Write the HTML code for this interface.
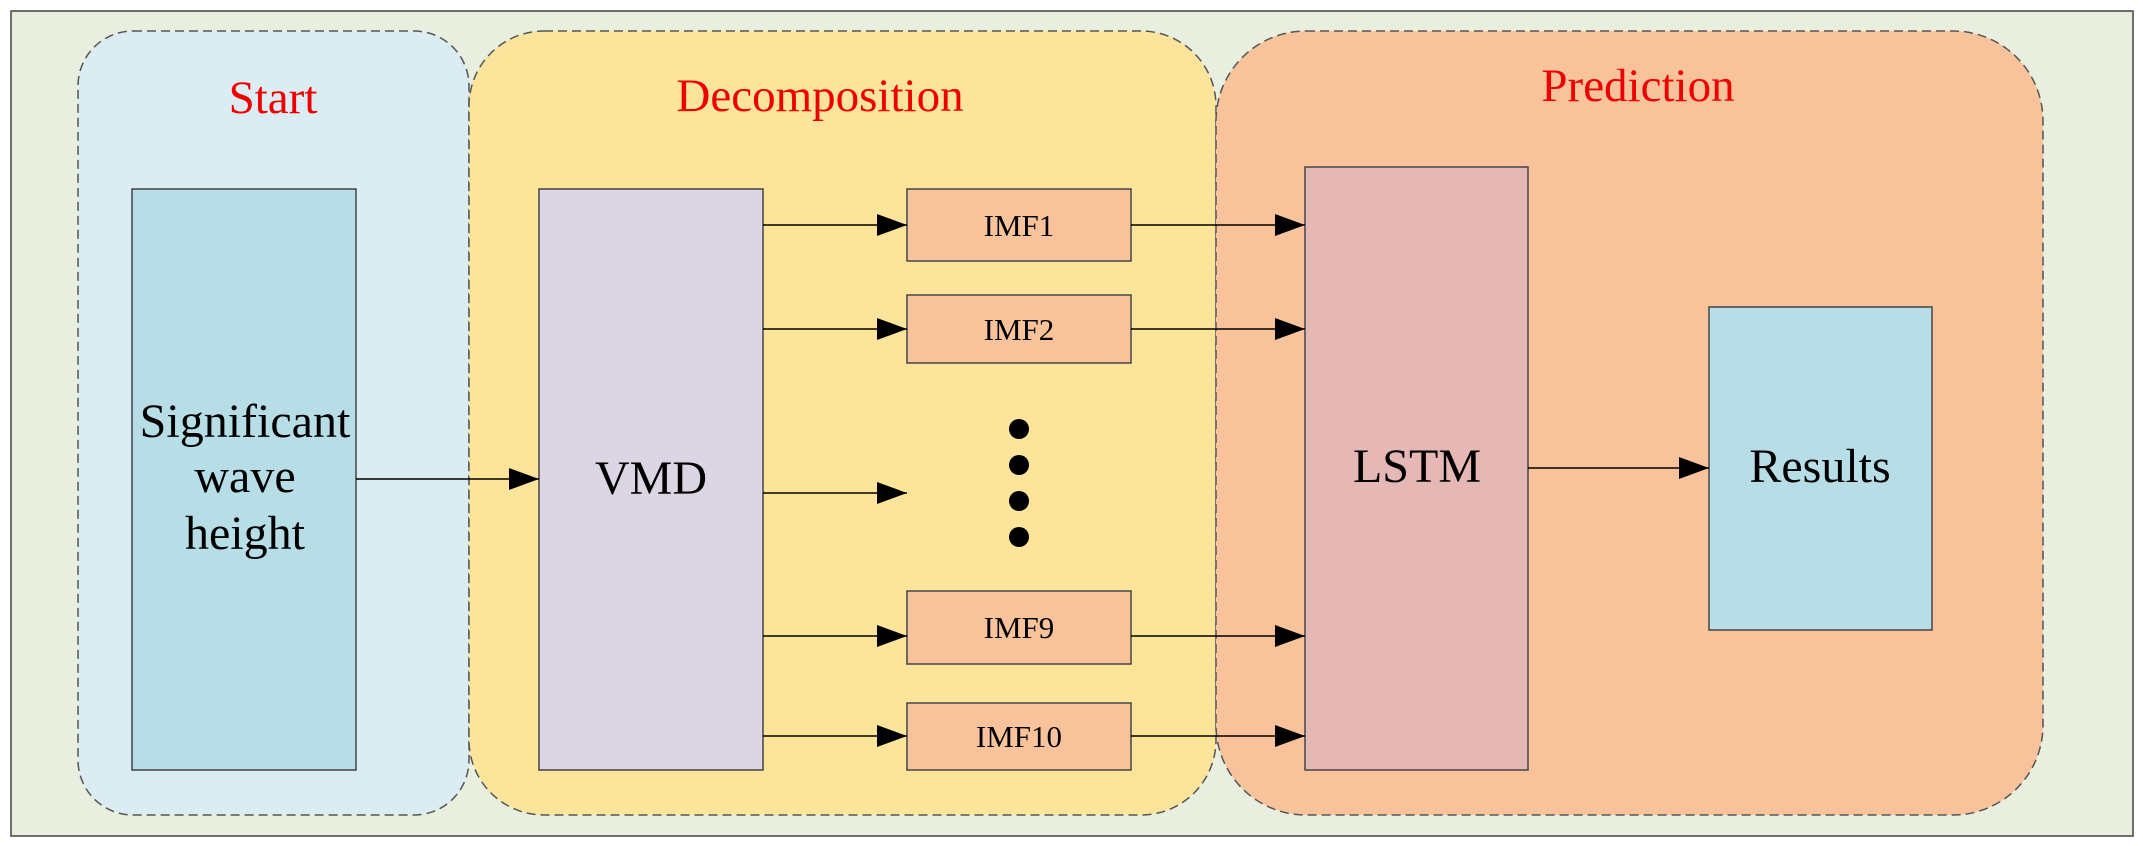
<!DOCTYPE html>
<html><head><meta charset="utf-8"><style>html,body{margin:0;padding:0;background:#fff}svg{display:block}</style></head>
<body>
<svg width="2143" height="846" viewBox="0 0 2143 846" xmlns="http://www.w3.org/2000/svg" font-family="'Liberation Serif', serif">
<defs><marker id="a" markerWidth="30" markerHeight="22" refX="30" refY="11" orient="auto" markerUnits="userSpaceOnUse"><path d="M0,0 L30,11 L0,22 Z" fill="#000"/></marker></defs>
<rect x="11" y="11" width="2122" height="825" fill="#e9efdf" stroke="#444" stroke-width="1.5"/>
<rect x="78" y="31" width="391" height="784" rx="55" fill="#dbecf2" stroke="#555" stroke-width="1.5" stroke-dasharray="9,5"/>
<rect x="469" y="31" width="747" height="784" rx="75" fill="#fde49b" stroke="#555" stroke-width="1.5" stroke-dasharray="9,5"/>
<rect x="1216" y="31" width="827" height="784" rx="90" fill="#f8c39a" stroke="#555" stroke-width="1.5" stroke-dasharray="9,5"/>
<g fill="#e00" font-size="47" text-anchor="middle">
<text x="273" y="113">Start</text><text x="820" y="111">Decomposition</text><text x="1638" y="101">Prediction</text></g>
<rect x="132" y="189" width="224" height="581" fill="#b7dde6" stroke="#444" stroke-width="1.5"/>
<rect x="539" y="189" width="224" height="581" fill="#dcd6e4" stroke="#444" stroke-width="1.5"/>
<g fill="#f8c39a" stroke="#444" stroke-width="1.5">
<rect x="907" y="189" width="224" height="72"/><rect x="907" y="295" width="224" height="68"/>
<rect x="907" y="591" width="224" height="73"/><rect x="907" y="703" width="224" height="67"/></g>
<rect x="1305" y="167" width="223" height="603" fill="#e5b8b5" stroke="#444" stroke-width="1.5"/>
<rect x="1709" y="307" width="223" height="323" fill="#b7dde6" stroke="#444" stroke-width="1.5"/>
<g stroke="#000" stroke-width="1.5" marker-end="url(#a)">
<line x1="356" y1="479" x2="539" y2="479"/>
<line x1="763" y1="225" x2="907" y2="225"/><line x1="763" y1="329" x2="907" y2="329"/>
<line x1="763" y1="493" x2="907" y2="493"/><line x1="763" y1="636" x2="907" y2="636"/>
<line x1="763" y1="736" x2="907" y2="736"/>
<line x1="1131" y1="225" x2="1305" y2="225"/><line x1="1131" y1="329" x2="1305" y2="329"/>
<line x1="1131" y1="636" x2="1305" y2="636"/><line x1="1131" y1="736" x2="1305" y2="736"/>
<line x1="1528" y1="468" x2="1709" y2="468"/></g>
<g fill="#000"><circle cx="1019" cy="429" r="10"/><circle cx="1019" cy="465" r="10"/><circle cx="1019" cy="501" r="10"/><circle cx="1019" cy="537" r="10"/></g>
<g fill="#000" text-anchor="middle">
<g font-size="48"><text x="245" y="437">Significant</text><text x="245" y="492">wave</text><text x="245" y="549">height</text>
<text x="651" y="494">VMD</text><text x="1417" y="482">LSTM</text><text x="1820" y="482">Results</text></g>
<g font-size="31"><text x="1019" y="236">IMF1</text><text x="1019" y="340">IMF2</text><text x="1019" y="638">IMF9</text><text x="1019" y="747">IMF10</text></g>
</g>
</svg>
</body></html>
